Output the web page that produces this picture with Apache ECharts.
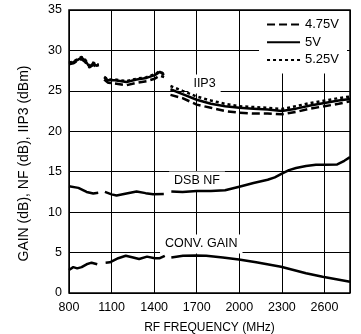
<!DOCTYPE html>
<html>
<head>
<meta charset="utf-8">
<script src="https://cdn.jsdelivr.net/npm/echarts@6/dist/echarts.min.js"></script>
<style>
  html, body { margin: 0; padding: 0; background: #fff; }
  #chart { width: 361px; height: 334px; }
</style>
</head>
<body>
<div id="chart"></div>
<script>
// x axis ticks (MHz); the axis is drawn from 800 so ticks are counted as offsets
const xTicks = [800, 1100, 1400, 1700, 2000, 2300, 2600];
const xMax = 2780;
const yTicks = [0, 5, 10, 15, 20, 25, 30, 35];

// IIP3 (dBm) vs frequency, null = gap in the trace
const iip3Freq = [800, 830, 858, 872, 889, 912, 943, 971, 994, 1010, 1030,
  1048, 1076, 1123, 1205, 1276, 1346, 1404, 1440, 1470, 1495,
  1515, 1600, 1700, 1800, 1900, 2000, 2100, 2200, 2300, 2400, 2500, 2600, 2700, 2780];
const iip3_475 = [28.3, 28.4, 28.7, 28.9, 28.9, 28.6, 27.9, 28.2, 28.0, 28.1, null,
  26.4, 26.0, 25.9, 25.7, 26.0, 26.2, 26.5, 26.9, 26.7, null,
  24.5, 24.1, 23.3, 22.9, 22.5, 22.3, 22.2, 22.2, 22.1, 22.4, 22.8, 23.1, 23.4, 23.7];
const iip3_5 = [28.4, 28.55, 28.8, 29.0, 29.1, 28.8, 28.0, 28.4, 28.1, 28.2, null,
  26.65, 26.3, 26.3, 26.1, 26.4, 26.6, 26.95, 27.35, 26.95, null,
  25.2, 24.6, 23.9, 23.4, 23.1, 22.9, 22.8, 22.7, 22.5, 22.8, 23.2, 23.5, 23.8, 24.0];
const iip3_525 = [28.5, 28.6, 28.9, 29.1, 29.2, 28.9, 28.1, 28.5, 28.2, 28.3, null,
  26.75, 26.4, 26.4, 26.2, 26.5, 26.7, 27.05, 27.45, 27.05, null,
  25.6, 25.0, 24.3, 23.8, 23.4, 23.1, 23.0, 22.9, 22.75, 23.1, 23.5, 23.8, 24.1, 24.3];

// DSB noise figure (dB)
const nfFreq = [800, 866, 924, 971, 1006, 1030,
  1053, 1100, 1135, 1205, 1276, 1340, 1393, 1468, 1495,
  1521, 1600, 1700, 1800, 1900, 2000, 2100, 2200, 2250, 2300, 2350, 2400, 2470, 2540,
  2600, 2690, 2740, 2780];
const nf = [13.2, 13.0, 12.5, 12.3, 12.4, null,
  12.5, 12.2, 12.05, 12.3, 12.55, 12.35, 12.2, 12.25, null,
  12.55, 12.5, 12.6, 12.6, 12.7, 13.15, 13.6, 14.0, 14.3, 14.75, 15.2, 15.45, 15.7, 15.85,
  15.85, 15.9, 16.35, 16.8];

// conversion gain (dB)
const gainFreq = [800, 830, 858, 889, 924, 959, 999, 1030,
  1058, 1088, 1147, 1200, 1252, 1294, 1350, 1404, 1440, 1475, 1498,
  1521, 1603, 1692, 1767, 1884, 1997, 2119, 2294, 2470, 2587, 2780];
const gain = [2.85, 3.2, 3.05, 3.2, 3.55, 3.75, 3.55, null,
  3.75, 3.8, 4.3, 4.6, 4.4, 4.2, 4.5, 4.3, 4.3, 4.6, null,
  4.4, 4.6, 4.65, 4.6, 4.4, 4.15, 3.8, 3.25, 2.45, 2.0, 1.4];

// in-plot curve labels
const noteText = ['IIP3', 'DSB NF', 'CONV. GAIN'];
const noteFreq = [1755, 1702, 1732];
const noteVal = [25.85, 13.85, 6.06];

const FONT = "'Liberation Sans', Arial, sans-serif";
const x0 = xTicks[0];

function pairs(freq, vals) {
  return freq.map((f, i) => [f - x0, vals[i] === null ? '-' : vals[i]]);
}

function curve(name, freq, vals, type) {
  return {
    name: name,
    type: 'line',
    data: pairs(freq, vals),
    showSymbol: false,
    symbol: 'none',
    connectNulls: false,
    z: 6,
    itemStyle: { color: '#000' },
    lineStyle: { color: '#000', width: 2.5, type: type },
    emphasis: { disabled: true }
  };
}

const chart = echarts.init(document.getElementById('chart'), null, { renderer: 'canvas' });

const option = {
  animation: false,
  backgroundColor: '#fff',
  textStyle: { fontFamily: FONT, color: '#000' },
  grid: {
    left: 69, top: 10, right: 11, bottom: 41,
    outerBoundsMode: 'none',
    containLabel: false,
    show: true, borderColor: '#000', borderWidth: 1.5
  },
  legend: {
    data: ['4.75V', '5V', '5.25V'],
    orient: 'vertical',
    right: 14,
    top: 11,
    padding: [7, 8, 7, 7],
    itemWidth: 33,
    itemHeight: 12,
    itemGap: 4.7,
    itemStyle: { opacity: 0 },
    backgroundColor: '#fff',
    z: 10,
    textStyle: { fontFamily: FONT, fontSize: 13, color: '#000' }
  },
  xAxis: {
    type: 'value',
    min: 0,
    max: xMax - x0,
    interval: xTicks[1] - xTicks[0],
    name: 'RF FREQUENCY (MHz)',
    nameLocation: 'middle',
    nameGap: 29,
    nameTextStyle: { fontFamily: FONT, fontSize: 12, color: '#000' },
    axisLine: { show: false },
    axisTick: { show: false },
    axisLabel: {
      margin: 8,
      fontFamily: FONT, fontSize: 12.5, color: '#000',
      formatter: v => xTicks.includes(v + x0) ? String(v + x0) : ''
    },
    splitLine: { show: true, lineStyle: { color: '#000', width: 1 } }
  },
  yAxis: {
    type: 'value',
    min: yTicks[0],
    max: yTicks[yTicks.length - 1],
    interval: yTicks[1] - yTicks[0],
    name: 'GAIN (dB), NF (dB), IIP3 (dBm)',
    nameLocation: 'middle',
    nameGap: 38,
    nameTextStyle: { fontFamily: FONT, fontSize: 14, color: '#000', padding: [0, 24, 0, 0] },
    axisLine: { show: false },
    axisTick: { show: false },
    axisLabel: { margin: 7, fontFamily: FONT, fontSize: 12.5, color: '#000' },
    splitLine: { show: true, lineStyle: { color: '#000', width: 1 } }
  },
  series: [
    curve('4.75V', iip3Freq, iip3_475, [8, 4]),
    curve('5V', iip3Freq, iip3_5, 'solid'),
    curve('5.25V', iip3Freq, iip3_525, [3, 3]),
    curve('DSB NF', nfFreq, nf, 'solid'),
    curve('CONV. GAIN', gainFreq, gain, 'solid')
  ]
};

chart.setOption(option);

// curve names sit on white boxes that blank out the grid behind them
const notes = noteText.map((t, i) => {
  const p = chart.convertToPixel({ gridIndex: 0 }, [noteFreq[i] - x0, noteVal[i]]);
  return {
    type: 'text',
    x: p[0],
    y: p[1],
    z: 5,
    silent: true,
    style: {
      text: t,
      fill: '#000',
      fontFamily: FONT,
      fontSize: 12.5,
      align: 'center',
      verticalAlign: 'middle',
      backgroundColor: '#fff',
      padding: [2, 5, 4, 5]
    }
  };
});
chart.setOption({ graphic: notes });
</script>
</body>
</html>
